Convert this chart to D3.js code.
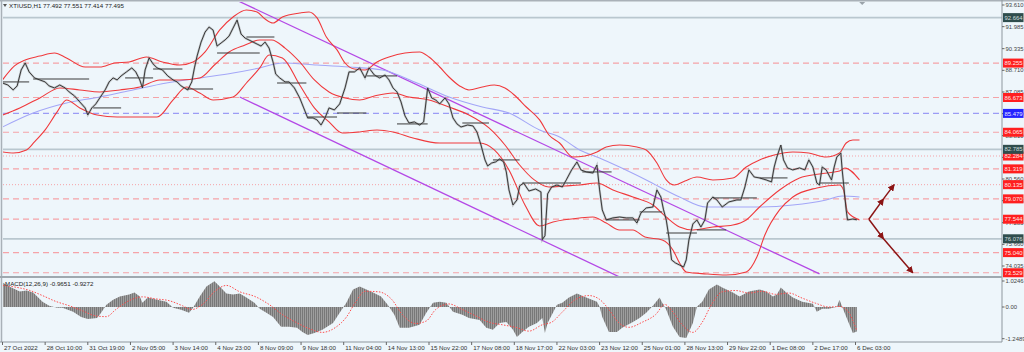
<!DOCTYPE html>
<html>
<head>
<meta charset="utf-8">
<script src="https://d3js.org/d3.v7.min.js"></script>
<style>
  body { margin: 0; background: #eef6fb; }
  text { font-family: "Liberation Sans", Arial, sans-serif; }
</style>
</head>
<body>
<div id="chart"></div>
<script>
// ---- data (bar index = hours from 27 Oct 00:00, price) ----
const closes = [[0,87.76],[4,87.61],[8,87.24],[11,87.54],[14,88.74],[17,89.26],[20,88.59],[24,88.14],[28,87.99],[32,87.84],[35,87.54],[39,87.39],[43,87.61],[47,87.39],[50,87.09],[54,86.79],[58,86.34],[62,85.89],[64,85.36],[67,85.89],[70,86.19],[73,86.64],[77,87.24],[80,87.84],[83,88.14],[86,87.99],[89,88.29],[93,88.59],[97,88.89],[100,88.59],[103,87.99],[105,87.39],[107,88.74],[110,89.64],[113,89.19],[116,88.89],[120,88.74],[124,88.29],[128,87.99],[131,87.84],[134,87.54],[139,87.24],[142,87.84],[144,88.89],[146,89.78],[149,90.83],[152,91.58],[155,91.96],[158,91.73],[161,90.53],[164,90.76],[167,90.99],[170,91.28],[173,91.88],[176,92.48],[179,91.43],[182,91.13],[185,90.98],[188,90.83],[191,90.68],[194,90.53],[197,90.83],[200,90.38],[203,89.33],[205,88.43],[208,88.14],[212,87.84],[215,87.84],[219,87.39],[223,86.64],[226,85.89],[229,85.14],[233,85.14],[236,84.99],[239,84.61],[242,85.14],[245,85.89],[249,85.74],[253,86.19],[257,87.39],[260,88.59],[264,88.59],[268,88.89],[272,88.14],[275,88.89],[279,88.36],[283,88.14],[287,88.36],[290,87.99],[293,87.39],[296,87.09],[299,86.34],[302,85.29],[305,84.76],[309,84.84],[313,84.61],[316,84.84],[319,87.39],[322,86.64],[325,86.49],[328,86.19],[332,86.64],[335,86.19],[338,85.14],[341,84.69],[344,84.46],[349,84.61],[353,84.54],[356,84.08],[359,83.11],[362,81.99],[364,81.54],[367,81.76],[370,81.84],[373,82.06],[376,81.84],[378,81.09],[380,79.74],[383,78.61],[386,78.99],[388,80.04],[391,80.26],[395,79.66],[400,79.81],[404,79.59],[405,76.01],[407,76.31],[409,79.44],[412,79.96],[416,80.11],[420,79.96],[423,80.49],[427,81.24],[431,81.84],[434,81.24],[438,81.09],[443,81.01],[446,81.61],[448,79.74],[450,78.24],[453,77.49],[458,77.64],[463,77.71],[468,77.64],[473,77.64],[476,77.26],[479,78.01],[483,78.39],[488,78.46],[491,79.74],[494,79.21],[496,78.24],[498,77.49],[500,76.21],[502,74.49],[505,74.26],[508,74.11],[511,73.96],[513,74.49],[515,75.99],[518,77.19],[521,77.49],[524,76.96],[527,77.49],[529,78.76],[533,79.21],[536,78.99],[540,78.46],[545,78.84],[551,78.99],[554,78.99],[557,79.96],[560,81.24],[564,80.71],[568,80.64],[573,80.49],[577,80.34],[579,81.46],[581,82.21],[584,83.11],[586,81.99],[589,81.39],[593,81.24],[598,81.39],[602,81.24],[605,81.99],[608,81.46],[611,80.26],[613,80.11],[615,81.46],[618,81.24],[622,80.49],[624,81.46],[626,82.21],[629,82.51],[630,81.24],[631,80.26],[632,79.21],[633,78.24],[634,77.49],[638,77.56],[641,77.50]];

const bbUpper = [[0,87.99],[9,89.04],[17,89.49],[28,89.78],[39,90.01],[48,89.64],[62,88.96],[73,88.96],[84,89.26],[95,89.34],[108,89.71],[120,89.34],[133,89.11],[143,89.34],[152,90.09],[163,91.74],[173,92.71],[183,93.24],[191,93.09],[197,92.56],[203,92.26],[210,92.71],[223,93.01],[230,93.09],[236,92.64],[243,91.21],[251,90.24],[257,89.26],[264,88.81],[272,88.74],[281,89.34],[290,89.71],[302,90.01],[313,90.09],[320,89.71],[328,88.96],[335,88.21],[343,87.54],[350,87.24],[360,87.46],[369,87.61],[377,87.39],[384,86.86],[393,85.96],[403,84.99],[410,83.86],[418,83.26],[428,82.21],[437,82.29],[446,82.59],[453,82.96],[463,83.11],[476,82.96],[483,82.74],[491,81.76],[498,80.49],[504,80.11],[512,80.41],[521,80.71],[533,80.49],[548,80.64],[558,81.46],[568,81.99],[579,82.36],[593,82.59],[605,82.51],[618,82.21],[628,82.51],[633,83.26],[638,83.49],[643,83.49]];

const bbMiddle = [[0,85.36],[13,85.89],[28,86.64],[43,87.39],[58,87.24],[73,87.09],[88,87.24],[103,87.46],[118,87.99],[133,87.99],[148,88.14],[159,89.11],[170,90.09],[182,90.61],[193,90.99],[202,90.99],[212,90.38],[223,89.34],[234,87.99],[245,87.09],[257,86.64],[268,86.49],[279,86.79],[293,87.01],[305,86.71],[320,86.49],[335,85.96],[350,85.36],[365,84.39],[377,83.11],[388,81.61],[399,80.49],[410,79.96],[422,80.04],[433,80.11],[446,80.26],[458,79.74],[473,79.21],[488,78.61],[498,77.71],[508,76.96],[518,76.74],[533,76.96],[548,77.11],[558,77.49],[568,78.46],[583,79.74],[598,80.64],[613,80.94],[628,81.16],[632,81.39],[643,80.49]];

const bbLower = [[0,82.59],[8,82.51],[18,82.74],[24,83.34],[32,84.24],[41,85.59],[48,86.49],[58,85.89],[71,85.36],[86,85.21],[103,85.21],[116,85.21],[128,86.49],[138,87.46],[148,87.01],[158,86.49],[173,86.71],[183,87.76],[193,88.89],[200,89.86],[210,89.64],[223,87.61],[234,85.89],[245,84.84],[255,84.01],[268,84.09],[281,84.24],[293,84.09],[308,83.64],[328,83.26],[358,83.26],[369,82.74],[380,81.24],[392,78.61],[403,77.04],[413,77.34],[433,77.64],[443,77.71],[453,77.26],[463,76.74],[473,76.74],[482,76.21],[495,75.99],[503,75.24],[508,74.26],[513,73.59],[528,73.44],[543,73.36],[558,73.59],[566,74.71],[572,76.36],[583,78.24],[593,79.21],[611,79.89],[628,80.11],[631,79.74],[634,78.09],[643,77.49]];

const maBlue = [[0,84.46],[23,85.51],[48,86.26],[73,86.71],[98,87.24],[123,87.76],[148,88.14],[173,88.51],[193,88.89],[210,89.26],[236,89.11],[260,88.96],[285,88.74],[311,87.76],[335,86.71],[360,85.96],[380,85.51],[403,84.24],[418,83.71],[433,82.74],[448,82.14],[463,81.46],[483,80.49],[508,79.21],[528,78.46],[568,78.46],[593,78.61],[618,78.99],[630,79.29],[643,79.21]];

// trend channel (start bar, start price, end bar, end price)
const channelUpper = [[175,94.0],[613,73.44]];
const channelLower = [[178,86.71],[463,73.21]];

// short horizontal level segments [fromBar, toBar, price]
const segments = [[0,20,87.84],[23,65,88.06],[68,89,85.89],[92,113,88.14],[113,135,88.81],[138,158,87.31],[161,193,90.01],[183,204,91.21],[206,228,87.76],[229,251,85.21],[251,273,85.51],[273,296,88.29],[296,319,84.69],[345,365,84.76],[368,388,81.99],[390,434,80.26],[435,457,81.09],[453,478,77.49],[478,495,78.09],[498,521,76.51],[521,543,76.74],[533,566,79.14],[568,589,80.64],[613,635,80.26]];

// horizontal levels
const levelsGrey = [92.664, 82.785, 76.076];
const levelsRedDash = [89.255, 86.673, 84.065, 81.319, 79.070, 77.544, 75.040, 73.529];
const levelsRedDot = [82.284, 80.135];
const levelsBlue = [85.479];

// forecast arrows [bar, price]
const arrowUp = [[650,77.544],[661,79.070],[669,80.135]];
const arrowDown = [[650,77.544],[661,76.076],[683,73.529]];

// price axis ticks
const priceTicks = [93.610, 91.985, 90.335, 88.710, 87.085, 85.460, 83.810, 82.185, 80.560, 78.935, 77.285, 75.660, 74.035];

// time axis
const timeBars = [0,32,64,96,128,160,192,224,256,288,320,352,384,416,448,480,512,544,576,608,640];
const timeLabels = ["27 Oct 2022","28 Oct 10:00","31 Oct 19:00","2 Nov 05:00","3 Nov 14:00","4 Nov 23:00","8 Nov 09:00","9 Nov 18:00","11 Nov 04:00","14 Nov 13:00","15 Nov 22:00","17 Nov 08:00","18 Nov 17:00","22 Nov 03:00","23 Nov 12:00","25 Nov 01:00","28 Nov 13:00","29 Nov 22:00","1 Dec 08:00","2 Dec 17:00","6 Dec 03:00"];

// MACD histogram [bar, value] and signal
const macdHist = [[0,0.97],[5,0.81],[13,0.61],[18,0.65],[23,0.57],[30,0.21],[35,0.05],[41,-0.03],[45,-0.03],[53,-0.19],[59,-0.39],[64,-0.47],[71,-0.43],[74,-0.23],[78,0.09],[83,0.29],[88,0.41],[95,0.49],[99,0.57],[103,0.41],[105,0.17],[109,0.37],[116,0.29],[123,0.21],[128,-0.03],[134,-0.11],[140,-0.23],[143,-0.03],[148,0.41],[153,0.81],[159,1.01],[163,0.81],[168,0.53],[173,0.49],[178,0.53],[183,0.37],[189,0.17],[193,-0.07],[198,-0.23],[203,-0.39],[209,-0.78],[215,-0.78],[221,-0.82],[225,-0.98],[229,-1.10],[234,-1.02],[240,-0.90],[248,-0.63],[253,-0.23],[258,0.17],[263,0.69],[268,0.81],[273,0.69],[278,0.57],[284,0.41],[289,0.09],[294,-0.31],[298,-0.82],[305,-0.82],[313,-0.70],[318,-0.23],[323,0.17],[328,0.21],[333,0.17],[338,-0.19],[345,-0.31],[350,-0.43],[358,-0.51],[363,-0.82],[368,-0.90],[373,-0.63],[378,-0.59],[383,-0.90],[386,-1.18],[390,-0.98],[395,-0.78],[401,-0.63],[405,-0.43],[407,-1.02],[409,-0.63],[413,-0.23],[416,0.09],[420,0.17],[425,0.37],[431,0.53],[438,0.37],[446,0.21],[448,0.01],[450,-0.39],[455,-0.98],[461,-0.98],[465,-0.82],[473,-0.59],[478,-0.43],[483,-0.23],[488,0.05],[493,0.37],[495,0.17],[498,-0.11],[503,-0.78],[508,-1.18],[513,-1.22],[518,-0.63],[521,0.01],[525,0.21],[530,0.69],[536,0.89],[540,0.77],[548,0.57],[553,0.41],[560,0.61],[568,0.69],[573,0.61],[578,0.41],[581,0.49],[584,0.77],[588,0.57],[593,0.37],[600,0.21],[608,0.13],[611,-0.19],[615,-0.07],[620,-0.07],[626,0.01],[628,0.29],[630,0.01],[634,-0.51],[638,-1.02],[641,-0.97]];

const macdSignal = [[0,0.85],[10,0.78],[20,0.66],[30,0.45],[40,0.22],[50,0.05],[60,-0.15],[70,-0.35],[78,-0.38],[85,-0.1],[95,0.25],[105,0.4],[115,0.32],[125,0.25],[135,0.05],[142,-0.1],[150,0.1],[160,0.65],[168,0.85],[178,0.6],[190,0.4],[200,0.1],[210,-0.3],[220,-0.6],[230,-0.85],[240,-1.0],[250,-0.8],[258,-0.4],[265,0.2],[272,0.62],[282,0.6],[292,0.3],[300,-0.3],[310,-0.65],[318,-0.55],[325,-0.1],[335,0.12],[345,-0.1],[355,-0.35],[365,-0.6],[375,-0.7],[385,-0.8],[395,-0.95],[405,-0.7],[412,-0.6],[420,-0.2],[430,0.3],[440,0.45],[448,0.3],[455,-0.1],[462,-0.6],[470,-0.8],[480,-0.6],[490,-0.3],[497,0.1],[503,-0.2],[510,-0.7],[518,-1.0],[525,-0.6],[532,0.1],[540,0.6],[550,0.65],[560,0.55],[570,0.62],[580,0.5],[590,0.55],[600,0.35],[610,0.15],[620,0.0],[628,0.02],[634,-0.15],[641,-0.93]];
const macdTicks = [1.0246, 0, -1.2489];
const macdTickLabels = ["1.0246", "0.00", "-1.2489"];

// ---- layout ----
const W = 1024, H = 352;
const plotL = 3, plotR = 1002;
const mainT = 2, mainB = 276;
const macdT = 278, macdB = 342;
const fs = 5.9;

const svg = d3.select("#chart").append("svg")
    .attr("width", W).attr("height", H);

svg.append("rect").attr("width", W).attr("height", H).attr("fill", "#eef6fb");

const x = d3.scaleLinear().domain([0, 640]).range([2.5, 855.5]);
const y = d3.scaleLinear().domain([74.035, 93.61]).range([266, 5]);
const my = d3.scaleLinear().domain([-1.2489, 1.0246]).range([338.7, 281]);

const defs = svg.append("defs");
defs.append("clipPath").attr("id", "clipMain").append("rect")
    .attr("x", plotL).attr("y", mainT).attr("width", plotR - plotL).attr("height", mainB - mainT);
defs.append("clipPath").attr("id", "clipMacd").append("rect")
    .attr("x", plotL).attr("y", macdT).attr("width", plotR - plotL).attr("height", macdB - macdT);
const pat = defs.append("pattern").attr("id", "stripes")
    .attr("width", 2).attr("height", 4).attr("patternUnits", "userSpaceOnUse");
pat.append("rect").attr("width", 2).attr("height", 4).attr("fill", "#a8a8a8");
pat.append("rect").attr("width", 1.2).attr("height", 4).attr("fill", "#787878");
const mk = defs.append("marker").attr("id", "arrowHead")
    .attr("viewBox", "0 0 8 8").attr("refX", 7).attr("refY", 4)
    .attr("markerWidth", 7).attr("markerHeight", 7)
    .attr("markerUnits", "userSpaceOnUse").attr("orient", "auto");
mk.append("path").attr("d", "M0,0 L8,4 L0,8 z").attr("fill", "#8b1414");

const main = svg.append("g").attr("clip-path", "url(#clipMain)");

// horizontal levels
main.selectAll(".lvRed").data(levelsRedDash).join("line")
    .attr("x1", plotL).attr("x2", plotR)
    .attr("y1", d => y(d)).attr("y2", d => y(d))
    .attr("stroke", "#f5a3a8").attr("stroke-width", 1.2).attr("stroke-dasharray", "6,4");
main.selectAll(".lvDot").data(levelsRedDot).join("line")
    .attr("x1", plotL).attr("x2", plotR)
    .attr("y1", d => y(d)).attr("y2", d => y(d))
    .attr("stroke", "#f5a3a8").attr("stroke-width", 1).attr("stroke-dasharray", "1,2");
main.selectAll(".lvBlue").data(levelsBlue).join("line")
    .attr("x1", plotL).attr("x2", plotR)
    .attr("y1", d => y(d)).attr("y2", d => y(d))
    .attr("stroke", "#9b9cf5").attr("stroke-width", 1.2).attr("stroke-dasharray", "6,4");
main.selectAll(".lvGrey").data(levelsGrey).join("line")
    .attr("x1", plotL).attr("x2", plotR)
    .attr("y1", d => y(d)).attr("y2", d => y(d))
    .attr("stroke", "#b9c7cf").attr("stroke-width", 1.8);

const line = d3.line().x(d => x(d[0])).y(d => y(d[1]));
const smooth = d3.line().x(d => x(d[0])).y(d => y(d[1])).curve(d3.curveMonotoneX);

// channel
[channelUpper, channelLower].forEach(c => {
    main.append("path").attr("d", line(c))
        .attr("fill", "none").attr("stroke", "#b448e6").attr("stroke-width", 1.3);
});

// blue MA
main.append("path").attr("d", smooth(maBlue))
    .attr("fill", "none").attr("stroke", "#a3a6f7").attr("stroke-width", 1.1);

// Bollinger bands
[bbUpper, bbMiddle, bbLower].forEach(b => {
    main.append("path").attr("d", smooth(b))
        .attr("fill", "none").attr("stroke", "#f0393c").attr("stroke-width", 1.1);
});

// level segments
main.selectAll(".seg").data(segments).join("line")
    .attr("x1", d => x(d[0])).attr("x2", d => x(d[1]))
    .attr("y1", d => y(d[2])).attr("y2", d => y(d[2]))
    .attr("stroke", "#3a3a3a").attr("stroke-width", 1);

// price
main.append("path").attr("d", line(closes))
    .attr("fill", "none").attr("stroke", "#8a8a8a").attr("stroke-width", 2.2).attr("opacity", 0.45);
main.append("path").attr("d", line(closes))
    .attr("fill", "none").attr("stroke", "#2a2a2a").attr("stroke-width", 0.9);

// forecast arrows
[arrowUp, arrowDown].forEach(a => {
    for (let i = 1; i < a.length; i++) {
        main.append("line")
            .attr("x1", x(a[i - 1][0])).attr("y1", y(a[i - 1][1]))
            .attr("x2", x(a[i][0])).attr("y2", y(a[i][1]))
            .attr("stroke", "#8b1414").attr("stroke-width", 1.5)
            .attr("marker-end", "url(#arrowHead)");
    }
});

// ---- MACD pane ----
const macd = svg.append("g").attr("clip-path", "url(#clipMacd)");
macd.append("path")
    .attr("d", d3.area().x(d => x(d[0])).y0(my(0)).y1(d => my(d[1]))(macdHist))
    .attr("fill", "url(#stripes)");
macd.append("path")
    .attr("d", d3.line().x(d => x(d[0])).y(d => my(d[1])).curve(d3.curveMonotoneX)(macdSignal))
    .attr("fill", "none").attr("stroke", "#ff4d4d").attr("stroke-width", 1).attr("stroke-dasharray", "1.5,1.5");

// ---- frames ----
svg.append("line").attr("x1", 0).attr("x2", W).attr("y1", 0.75).attr("y2", 0.75)
    .attr("stroke", "#a9b1b8").attr("stroke-width", 1.5);
svg.append("line").attr("x1", 1.5).attr("x2", 1.5).attr("y1", 0).attr("y2", macdB)
    .attr("stroke", "#a9b1b8").attr("stroke-width", 1.5);
svg.append("line").attr("x1", plotR).attr("x2", plotR).attr("y1", 0).attr("y2", macdB)
    .attr("stroke", "#8e979e").attr("stroke-width", 1);
svg.append("rect").attr("x", 0).attr("y", mainB).attr("width", plotR).attr("height", 2)
    .attr("fill", "#9fa8af");
svg.append("line").attr("x1", 0).attr("x2", plotR).attr("y1", macdB).attr("y2", macdB)
    .attr("stroke", "#8e979e").attr("stroke-width", 1);

// top marker
svg.append("path").attr("transform", `translate(${x(645)},2)`)
    .attr("d", "M-3,0 L3,0 L0,3 z").attr("fill", "#9aa3aa");

// title
svg.append("path").attr("d", "M3,4 L7,4 L5,7 z").attr("fill", "#555");
svg.append("text").attr("x", 9).attr("y", 8).attr("font-size", 6.2).attr("fill", "#222")
    .text("XTIUSD,H1  77.492 77.551 77.414 77.495");
svg.append("text").attr("x", 5).attr("y", 286).attr("font-size", 6.2).attr("fill", "#222")
    .text("MACD(12,26,9) -0.9651 -0.9272");

// ---- right price axis ----
const axisG = svg.append("g");
axisG.selectAll(".pt").data(priceTicks).join("g").each(function (d) {
    const g = d3.select(this);
    g.append("line").attr("x1", plotR).attr("x2", plotR + 2.5)
        .attr("y1", y(d)).attr("y2", y(d)).attr("stroke", "#666");
    g.append("text").attr("x", plotR + 3.5).attr("y", y(d) + 2.1)
        .attr("font-size", fs).attr("fill", "#444").text(d.toFixed(3));
});

function priceBox(v, fill, txt) {
    const yy = y(v);
    axisG.append("rect").attr("x", plotR + 1).attr("y", yy - 4.5).attr("width", 20.5).attr("height", 9)
        .attr("fill", fill);
    axisG.append("text").attr("x", plotR + 2.5).attr("y", yy + 2.1)
        .attr("font-size", fs).attr("fill", txt).text(v.toFixed(3));
}
levelsRedDash.concat(levelsRedDot).forEach(v => priceBox(v, "#ff1f1f", "#ffe9e9"));
levelsBlue.forEach(v => priceBox(v, "#2323ff", "#e6e6ff"));
levelsGrey.forEach(v => priceBox(v, "#2f4d4d", "#cfdede"));

// MACD axis
macdTicks.forEach((v, i) => {
    axisG.append("line").attr("x1", plotR).attr("x2", plotR + 2.5)
        .attr("y1", my(v)).attr("y2", my(v)).attr("stroke", "#666");
    axisG.append("text").attr("x", plotR + 3.5).attr("y", my(v) + 2.1)
        .attr("font-size", fs).attr("fill", "#444").text(macdTickLabels[i]);
});

// ---- time axis ----
const tg = svg.append("g");
timeBars.forEach((b, i) => {
    tg.append("line").attr("x1", x(b)).attr("x2", x(b))
        .attr("y1", macdB).attr("y2", macdB + 3).attr("stroke", "#666");
    tg.append("text").attr("x", x(b) + 1.5).attr("y", macdB + 7.5)
        .attr("font-size", 6.2).attr("fill", "#333").text(timeLabels[i]);
});
</script>
</body>
</html>
